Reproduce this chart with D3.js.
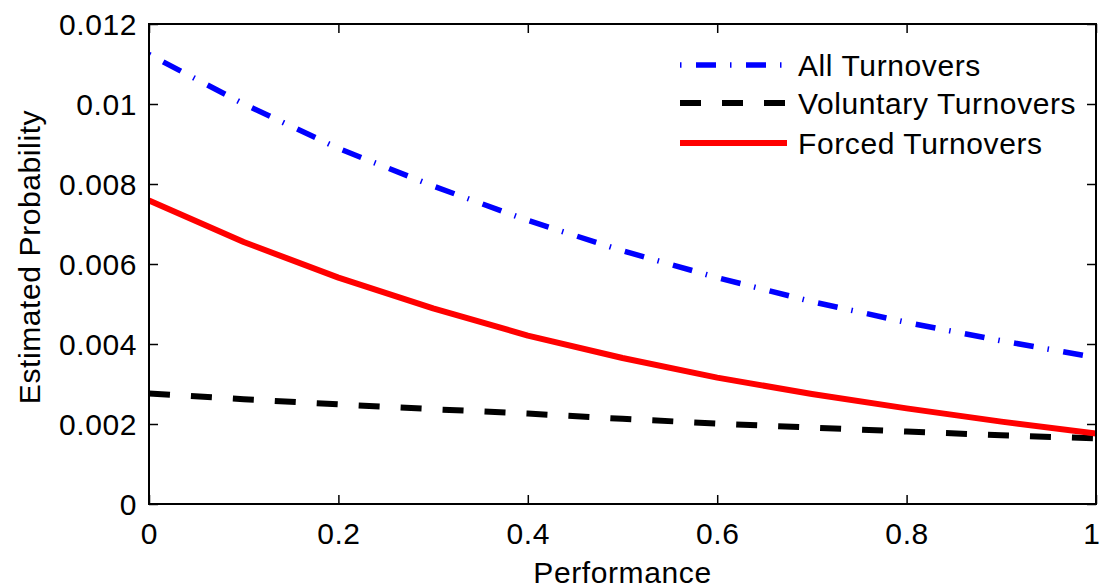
<!DOCTYPE html>
<html>
<head>
<meta charset="utf-8">
<script src="https://cdn.jsdelivr.net/npm/d3@7"></script>
<style>
  html, body { margin: 0; padding: 0; background: #fff; }
  svg { display: block; font-family: "Liberation Sans", Arial, Helvetica, sans-serif; }
  svg text { letter-spacing: 0.6px; }
</style>
</head>
<body>
<svg id="chart" width="1101" height="584"></svg>
<script>
// ---- data ----
const performance = [0, 0.1, 0.2, 0.3, 0.4, 0.5, 0.6, 0.7, 0.8, 0.9, 1.0];
const allTurnovers = [0.01124, 0.01000, 0.00889, 0.00795, 0.00709, 0.00633, 0.00566, 0.00506, 0.00454, 0.00408, 0.00366];
const voluntaryTurnovers = [0.00276, 0.00262, 0.00249, 0.00237, 0.00226, 0.00213, 0.00201, 0.00191, 0.00181, 0.00172, 0.00164];
const forcedTurnovers = [0.00759, 0.00655, 0.00566, 0.00489, 0.00421, 0.00365, 0.00316, 0.00275, 0.00239, 0.00206, 0.00176];
const seriesNames = ["All Turnovers", "Voluntary Turnovers", "Forced Turnovers"];
const xTicks = [0, 0.2, 0.4, 0.6, 0.8, 1];
const xTickLabels = ["0", "0.2", "0.4", "0.6", "0.8", "1"];
const yTicks = [0, 0.002, 0.004, 0.006, 0.008, 0.01, 0.012];
const yTickLabels = ["0", "0.002", "0.004", "0.006", "0.008", "0.01", "0.012"];

// ---- layout ----
const L = 149, R = 1096, T = 24, B = 504;
const svg = d3.select("#chart");
const x = d3.scaleLinear().domain([0, 1]).range([L, R]);
const y = d3.scaleLinear().domain([0, 0.012]).range([B, T]);
const fontSize = 30;
const tickLen = 9;

const series = [
  { name: seriesNames[0], values: allTurnovers, color: "#0000ff", dash: "1.5,14.5,20,14", width: 5.5 },
  { name: seriesNames[1], values: voluntaryTurnovers, color: "#000000", dash: "21,21", width: 6 },
  { name: seriesNames[2], values: forcedTurnovers, color: "#ff0000", dash: null, width: 6 }
];

const line = d3.line().x((d, i) => x(performance[i])).y(d => y(d));

// clip
svg.append("defs").append("clipPath").attr("id", "clip")
  .append("rect").attr("x", L).attr("y", T).attr("width", R - L).attr("height", B - T);

const g = svg.append("g").attr("clip-path", "url(#clip)");
series.forEach(s => {
  g.append("path")
    .datum(s.values)
    .attr("d", line)
    .attr("fill", "none")
    .attr("stroke", s.color)
    .attr("stroke-width", s.width)
    .attr("stroke-dasharray", s.dash)
    .attr("stroke-linejoin", "round");
});

// axes (MATLAB-style box with inward ticks on all sides)
const xAxisB = d3.axisBottom(x).tickValues(xTicks).tickSize(-tickLen).tickFormat((d, i) => xTickLabels[i]).tickPadding(20);
const xAxisT = d3.axisTop(x).tickValues(xTicks).tickSize(-tickLen).tickFormat("");
const yAxisL = d3.axisLeft(y).tickValues(yTicks).tickSize(-tickLen).tickFormat((d, i) => yTickLabels[i]).tickPadding(12);
const yAxisR = d3.axisRight(y).tickValues(yTicks).tickSize(-tickLen).tickFormat("");

function style(sel) {
  sel.select(".domain").remove();
  sel.selectAll(".tick line").attr("stroke", "#000").attr("stroke-width", 1.5);
  sel.selectAll(".tick text").attr("fill", "#000").style("font-size", fontSize + "px")
     .style("font-family", '"Liberation Sans", Arial, sans-serif');
}
const xb = svg.append("g").attr("transform", `translate(0,${B})`).call(xAxisB).call(style);
xb.selectAll(".tick text").attr("dy", null).attr("y", 39.5);
// keep the last label ("1") inside the picture, as in the reference
xb.selectAll(".tick text").filter(d => d === 1).attr("text-anchor", "end").attr("x", 4);
svg.append("g").attr("transform", `translate(0,${T})`).call(xAxisT).call(style);
svg.append("g").attr("transform", `translate(${L},0)`).call(yAxisL).call(style)
  .selectAll(".tick text").attr("dy", "0.36em");
svg.append("g").attr("transform", `translate(${R},0)`).call(yAxisR).call(style);

// box
svg.append("rect").attr("x", L).attr("y", T).attr("width", R - L).attr("height", B - T)
  .attr("fill", "none").attr("stroke", "#000").attr("stroke-width", 2);

// axis labels
svg.append("text").attr("x", (L + R) / 2).attr("y", 583).attr("text-anchor", "middle")
  .style("font-size", fontSize + "px").text("Performance");
svg.append("text").attr("transform", `translate(40,257) rotate(-90)`).attr("text-anchor", "middle")
  .style("font-size", fontSize + "px").text("Estimated Probability");

// legend
const legY = [65, 103, 143];
series.forEach((s, i) => {
  svg.append("line").attr("x1", 680).attr("x2", 787).attr("y1", legY[i]).attr("y2", legY[i])
    .attr("stroke", s.color).attr("stroke-width", s.width).attr("stroke-dasharray", s.dash);
  svg.append("text").attr("x", 798).attr("y", legY[i]).attr("dy", "0.36em")
    .style("font-size", fontSize + "px").text(s.name);
});
</script>
</body>
</html>
